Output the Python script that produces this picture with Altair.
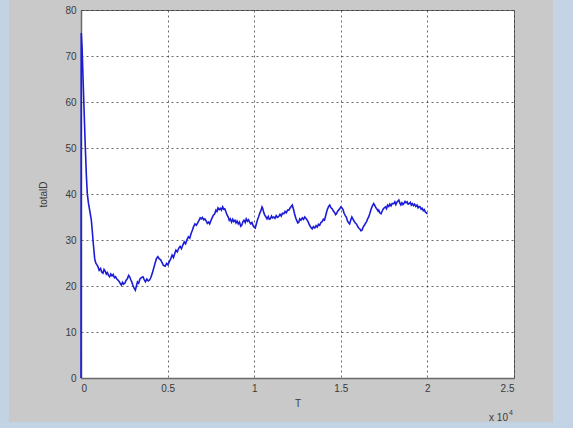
import altair as alt
import pandas as pd

# Simulation trace: total distance vs. time step
t_steps = [
    0, 15, 60, 120, 180, 250, 310, 365, 430, 500, 596, 650, 692, 740, 788, 850, 920, 980,
    1050, 1130, 1200, 1270, 1330, 1400, 1460, 1520, 1590, 1650, 1720, 1790, 1860, 1930,
    2000, 2070, 2135, 2200, 2260, 2330, 2400, 2460, 2530, 2600, 2680, 2750, 2810, 2870,
    2930, 2990, 3060, 3135, 3200, 3260, 3330, 3400, 3480, 3580, 3650, 3720, 3800, 3880,
    3960, 4040, 4120, 4200, 4280, 4360, 4440, 4520, 4600, 4680, 4760, 4865, 4940, 5020,
    5100, 5180, 5260, 5340, 5400, 5480, 5560, 5640, 5720, 5800, 5880, 5960, 6040, 6120,
    6200, 6280, 6355, 6430, 6500, 6580, 6660, 6745, 6820, 6880, 6940, 7010, 7080, 7150,
    7230, 7300, 7370, 7430, 7500, 7570, 7640, 7720, 7790, 7850, 7910, 7980, 8050, 8110,
    8180, 8240, 8300, 8370, 8440, 8500, 8560, 8620, 8690, 8760, 8820, 8890, 8950, 9010,
    9080, 9150, 9220, 9280, 9350, 9410, 9480, 9540, 9610, 9670, 9740, 9800, 9870, 9940,
    10000, 10060, 10130, 10200, 10250, 10320, 10400, 10450, 10490, 10550, 10610, 10680,
    10740, 10810, 10870, 10930, 11000, 11060, 11130, 11200, 11270, 11340, 11420, 11490,
    11560, 11630, 11710, 11780, 11850, 11930, 12000, 12080, 12140, 12200, 12260, 12330,
    12400, 12460, 12520, 12580, 12630, 12700, 12780, 12850, 12920, 12990, 13060, 13120,
    13200, 13280, 13350, 13420, 13500, 13570, 13640, 13710, 13780, 13850, 13920, 13990,
    14060, 14140, 14220, 14300, 14360, 14430, 14500, 14570, 14640, 14700, 14750, 14810,
    14870, 14940, 15000, 15060, 15130, 15190, 15260, 15320, 15380, 15440, 15510, 15570,
    15640, 15710, 15780, 15840, 15900, 15970, 16030, 16100, 16160, 16220, 16290, 16360,
    16420, 16490, 16550, 16610, 16680, 16740, 16810, 16900, 16960, 17030, 17090, 17150,
    17190, 17250, 17320, 17380, 17440, 17510, 17580, 17640, 17700, 17770, 17830, 17900,
    17960, 18060, 18120, 18180, 18240, 18300, 18350, 18410, 18470, 18530, 18590, 18650,
    18710, 18770, 18830, 18890, 18950, 19010, 19070, 19130, 19200, 19260, 19330, 19400,
    19460, 19520, 19580, 19640, 19700, 19760, 19820, 19880, 19940, 20000,
]
total_d = [
    0, 75, 72, 65, 58, 50, 44, 40, 38, 36.5, 34.3, 32, 30, 28, 26, 25, 24.6, 24.2,
    23.4, 23.8, 23.0, 22.8, 23.6, 23.2, 22.6, 22.9, 22.3, 22.0, 22.6, 22.2, 22.5, 21.8,
    22.0, 21.5, 21.3, 21.0, 20.6, 20.2, 20.8, 20.4, 20.6, 21.2, 21.6, 22.3, 22.0, 21.4,
    20.9, 20.2, 19.6, 19.1, 20.0, 20.9, 20.6, 21.5, 21.8, 22.0, 21.4, 20.9, 21.5, 21.1,
    21.3, 21.9, 22.8, 23.9, 25.0, 26.0, 26.4, 25.9, 25.7, 25.1, 24.5, 24.3, 24.9, 24.6,
    25.3, 25.9, 26.7, 26.2, 26.9, 27.8, 27.4, 28.2, 28.6, 28.1, 28.9, 29.6, 29.2, 30.1,
    30.7, 30.4, 31.4, 32.1, 32.9, 33.5, 33.2, 33.8, 34.3, 34.8, 34.6, 34.9, 34.4, 34.6,
    34.1, 33.6, 33.9, 33.5, 34.2, 34.8, 35.4, 35.7, 36.5, 36.2, 37.0, 36.6, 36.9, 36.5,
    37.2, 36.7, 36.8, 36.1, 35.4, 35.0, 34.3, 34.6, 33.9, 34.5, 34.0, 34.3, 33.7, 34.1,
    33.5, 33.9, 33.0, 33.2, 34.0, 34.3, 33.8, 34.6, 34.1, 34.4, 33.9, 33.5, 33.8, 33.1,
    32.8, 32.6, 33.6, 34.5, 35.0, 35.8, 36.5, 37.2, 36.9, 36.0, 35.4, 35.0,
    34.6, 35.1, 34.5, 34.6, 35.2, 34.8, 35.0, 34.7, 35.3, 34.9, 35.1, 35.6,
    35.2, 35.8, 35.7, 36.2, 35.9, 36.5, 36.5, 37.0, 37.3, 37.6, 36.8, 35.7,
    34.8, 34.2, 33.7, 33.9, 34.6, 34.3, 34.8, 34.5, 35.0, 34.7, 34.3, 33.9,
    33.2, 32.7, 32.4, 32.9, 32.6, 33.1, 32.8, 33.4, 33.2, 33.8, 34.0, 34.5,
    34.3, 35.5, 36.6, 37.3, 37.6, 37.0, 36.8, 36.3, 36.0, 35.5, 35.7, 36.2,
    36.5, 36.8, 37.2, 37.0, 36.6, 35.8, 35.3, 35.0, 34.2, 33.8, 33.5, 34.3,
    35.0, 34.5, 34.0, 33.7, 33.5, 33.0, 32.6, 32.4, 32.0, 32.1, 32.8, 33.2,
    33.6, 34.0, 34.6, 35.0, 35.8, 36.6, 37.3, 37.9, 37.5, 37.0, 36.7, 36.3,
    36.5, 35.9, 35.7, 36.2, 36.7, 37.0, 37.2, 36.8, 37.6, 37.3, 37.8, 37.4,
    37.9, 37.9, 38.3, 37.7, 38.2, 38.5, 38.7, 38.0, 37.6, 38.1, 37.7, 38.0,
    38.4, 38.1, 38.3, 37.8, 37.9, 38.2, 37.6, 37.9, 37.5, 37.8, 37.3, 37.6,
    37.0, 37.3, 37.2, 36.7, 36.9, 36.4, 36.6, 36.1, 35.9, 35.7,
]

x_ticks = [0, 5000, 10000, 15000, 20000, 25000]
y_ticks = [0, 10, 20, 30, 40, 50, 60, 70, 80]

df = pd.DataFrame({"T": t_steps, "totalD": total_d})

PLOT_W, PLOT_H = 433, 368
FONT = "Liberation Sans"
TEXT_COLOR = "#3a3a3a"

line = alt.Chart(df).mark_line(color="#1c1cd8", strokeWidth=1.6).encode(
    x=alt.X(
        "T:Q",
        scale=alt.Scale(domain=[0, 25000], nice=False, zero=False),
        axis=alt.Axis(
            values=x_ticks,
            labelExpr="'' + (datum.value / 10000)",
            title="T",
            titlePadding=5,
            labelPadding=5,
        ),
    ),
    y=alt.Y(
        "totalD:Q",
        scale=alt.Scale(domain=[0, 80], nice=False),
        axis=alt.Axis(
            values=y_ticks,
            title="totalD",
            titlePadding=16,
            labelPadding=5,
        ),
    ),
)

# exponent note under the right end of the x axis
note = pd.DataFrame({"txt": ["x 10"], "sup": ["4"]})
exp_base = alt.Chart(note).mark_text(
    align="right", baseline="alphabetic", font=FONT, fontSize=10, color=TEXT_COLOR
).encode(text="txt:N", x=alt.value(427), y=alt.value(411))
exp_sup = alt.Chart(note).mark_text(
    align="left", baseline="alphabetic", font=FONT, fontSize=7, color=TEXT_COLOR
).encode(text="sup:N", x=alt.value(428), y=alt.value(405))

# window border strips around the figure
strips = pd.DataFrame({"k": [0]})
left_strip = alt.Chart(strips).mark_rect(color="#c2d3e4").encode(
    x=alt.value(-81), x2=alt.value(-72), y=alt.value(-10), y2=alt.value(418)
)
right_strip = alt.Chart(strips).mark_rect(color="#c4d4e4").encode(
    x=alt.value(472), x2=alt.value(492), y=alt.value(-10), y2=alt.value(418)
)
bottom_strip = alt.Chart(strips).mark_rect(color="#c2d3e4").encode(
    x=alt.value(-81), x2=alt.value(492), y=alt.value(412), y2=alt.value(418)
)

chart = (
    alt.layer(left_strip, right_strip, bottom_strip, line, exp_base, exp_sup)
    .properties(
        width=PLOT_W,
        height=PLOT_H,
        background="#c9c9c9",
        autosize=alt.AutoSizeParams(type="none"),
        padding={"left": 81, "top": 10, "right": 59, "bottom": 50},
    )
    .configure_view(fill="white", stroke="#6a6a6a", strokeWidth=1)
    .configure_axis(
        grid=True,
        gridColor="#2a2a2a",
        gridDash=[2, 3],
        gridWidth=1,
        gridOpacity=0.7,
        domainColor="#6a6a6a",
        domainWidth=1.5,
        tickSize=0,
        labelFont=FONT,
        labelFontSize=10,
        labelColor=TEXT_COLOR,
        titleFont=FONT,
        titleFontSize=10,
        titleFontWeight="normal",
        titleColor=TEXT_COLOR,
    )
)

chart.save("out.html", embed_options={"renderer": "svg", "actions": False})
